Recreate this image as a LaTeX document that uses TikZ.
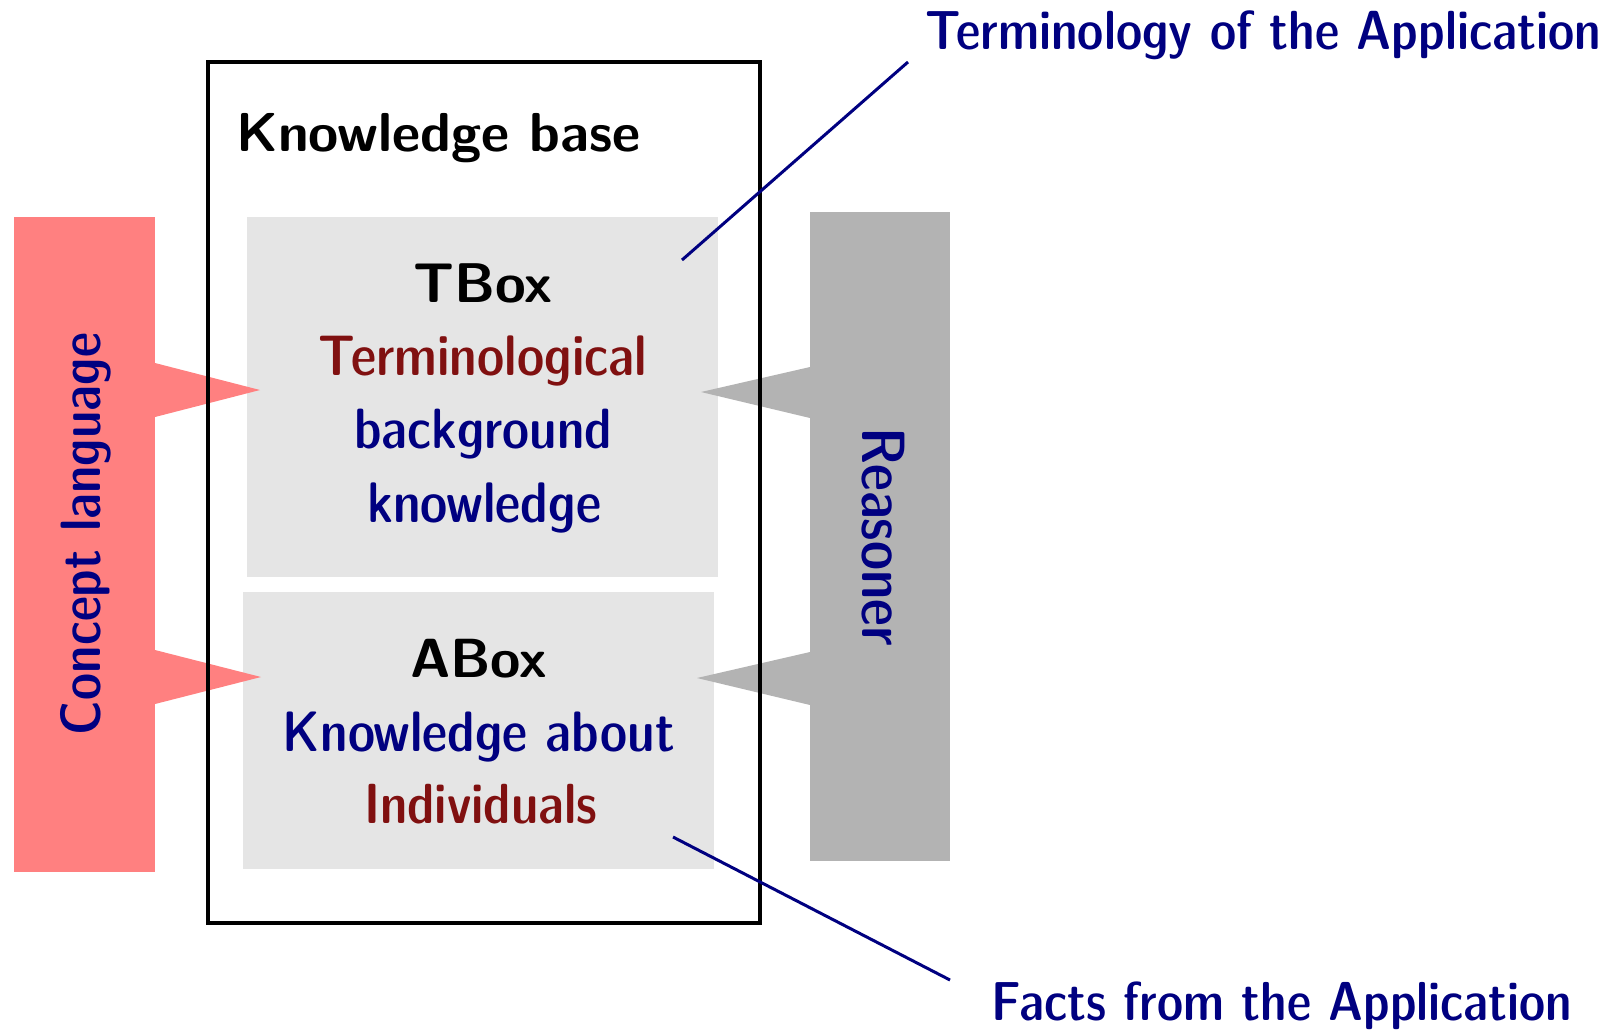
\documentclass[tikz,border=0pt]{standalone}
\usepackage{xcolor}
\usepackage{graphicx}
\definecolor{navy}{RGB}{0,0,128}
\definecolor{dred}{RGB}{128,16,16}
\definecolor{pinkbar}{RGB}{255,128,128}
\definecolor{greybar}{RGB}{179,179,179}
\definecolor{boxgrey}{RGB}{229,229,229}
\newcommand\dcfont{\sffamily\fontseries{sbc}\fontsize{56}{72}\selectfont}
\newcommand\bxfont{\sffamily\fontseries{bx}\fontsize{56}{72}\selectfont}
\newcommand\fitw[2]{\resizebox{#1pt}{!}{#2}}
\begin{document}
\begin{tikzpicture}[x=1pt,y=-1pt,
  dc/.style={font=\dcfont, inner sep=0pt},
  bxt/.style={font=\bxfont, inner sep=0pt},
  panel/.style={fill=boxgrey, draw=none, inner sep=0pt},
  bar/.style={draw=none, inner sep=0pt},
  link/.style={draw=navy, line width=3pt}]
\path[use as bounding box] (0,0) rectangle (1616,1029);
% panels
\node[panel, minimum width=471pt, minimum height=360pt] (tbox) at (482.5,397) {};
\node[panel, minimum width=471pt, minimum height=277pt] (abox) at (478.5,730.5) {};
% side bars
\node[bar, fill=pinkbar, minimum width=141pt, minimum height=655pt] (cbar) at (84.5,544.5) {};
\node[bar, fill=greybar, minimum width=140pt, minimum height=649pt] (rbar) at (880,536.5) {};
\fill[pinkbar] (155,363) -- (260,390) -- (155,417) -- cycle;
\fill[pinkbar] (155,650) -- (261,677) -- (155,704) -- cycle;
\fill[greybar] (810,367) -- (701,392) -- (810,418) -- cycle;
\fill[greybar] (810,652) -- (697,678) -- (810,705) -- cycle;
% knowledge base frame
\node[draw=black, line width=4pt, inner sep=0pt, minimum width=552pt, minimum height=861pt] (kb) at (484,492.5) {};
% texts
\node[bxt, anchor=base west] (kbl) at (236,151) {\fitw{404}{Knowledge base}};
\node[bxt, anchor=base] (tbl) at (482.5,302) {\fitw{139}{TBox}};
\node[dc, anchor=base, text=dred] (t1) at (483,375) {\fitw{328}{Terminological}};
\node[dc, anchor=base, text=navy] (t2) at (483,448) {\fitw{258}{background}};
\node[dc, anchor=base, text=navy] (t3) at (484,522) {\fitw{234}{knowledge}};
\node[bxt, anchor=base] (abl) at (478.5,677) {\fitw{137}{ABox}};
\node[dc, anchor=base, text=navy] (a1) at (479,751) {\fitw{392}{Knowledge about}};
\node[dc, anchor=base, text=dred] (a2) at (480.5,823) {\fitw{233}{Individuals}};
\node[dc, anchor=base west, text=navy] (ta) at (925,49) {\fitw{676}{Terminology of the Application}};
\node[dc, anchor=base west, text=navy] (fa) at (991,1020) {\fitw{581}{Facts from the Application}};
\node[dc, anchor=base, rotate=90, text=navy] (cl) at (100,534) {\fitw{402}{Concept language}};
\node[dc, anchor=base, rotate=-90, text=navy] (rl) at (862,536.5) {\fitw{219}{Reasoner}};
% connectors
\coordinate (tin) at (682,260);
\coordinate (tout) at (908,62);
\coordinate (ain) at (673,837);
\coordinate (aout) at (950,980);
\draw[link] (tin) -- (tout);
\draw[link] (ain) -- (aout);
\end{tikzpicture}
\end{document}
